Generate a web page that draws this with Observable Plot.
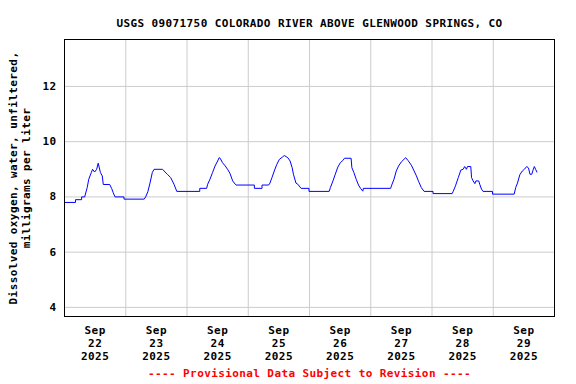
<!DOCTYPE html>
<html>
<head>
<meta charset="utf-8">
<script src="https://cdn.jsdelivr.net/npm/d3@7"></script>
<script src="https://cdn.jsdelivr.net/npm/@observablehq/plot@0.6"></script>
<style>
  html, body { margin: 0; padding: 0; background: #fff; }
</style>
</head>
<body>
<div id="chart"></div>
<script>
// Hours since 2025-09-22 00:00 and dissolved oxygen (mg/L)
const hours = [
  0, 4.3, 4.3, 6.7, 6.7, 7.9, 8.9, 9.5, 10.5, 11.0, 11.8, 12.6, 13.2, 14.1, 14.8, 15.2, 17.7, 18.5, 19.1, 19.8, 23.3, 23.3,
  31.2, 31.8, 32.7, 33.5, 34.4, 35.1, 38.4, 39.0, 40.3, 41.6, 42.9, 44.0, 53.0, 53.0, 55.7,
  56.1, 57.0, 58.0, 59.0, 60.0, 60.6, 61.0, 61.9, 63.0, 63.9, 64.8, 65.9, 66.9, 67.2, 74.4, 74.4, 77.4, 77.4, 80.0,
  80.5, 81.3, 82.2, 83.2, 84.2, 85.5, 86.1, 87.5, 88.4, 89.2, 89.7, 90.7, 91.4, 92.7, 95.8, 95.8, 103.7,
  104.2, 105.2, 106.1, 107.1, 108.1, 109.1, 109.7, 112.3, 112.6, 113.4, 114.3, 115.2, 116.0, 116.9, 117.1, 127.8,
  128.1, 129.1, 130.0, 130.9, 132.0, 133.0, 133.7, 134.6, 135.9, 137.0, 137.9, 138.8, 139.8, 140.9, 144.4, 144.4, 151.9,
  152.3, 153.2, 154.3, 155.3, 156.2, 156.8, 157.5, 157.9, 159.2, 159.5, 160.1, 160.8, 161.2, 162.3, 162.7, 163.4, 164.0, 167.7, 167.7, 176.2,
  176.8, 177.5, 178.4, 179.4, 180.2, 181.1, 181.8, 182.4, 183.1, 183.7, 184.1, 184.6, 185.1
];
const oxygen = [
  7.8, 7.8, 7.9, 7.9, 8.0, 8.0, 8.34, 8.64, 8.88, 9.0, 8.9, 9.0, 9.22, 8.88, 8.76, 8.45, 8.45, 8.3, 8.15, 8.0, 8.0, 7.92,
  7.92, 8.0, 8.2, 8.5, 8.88, 9.0, 9.0, 8.94, 8.82, 8.7, 8.46, 8.2, 8.2, 8.31, 8.31,
  8.46, 8.64, 8.88, 9.12, 9.3, 9.42, 9.4, 9.24, 9.12, 9.0, 8.86, 8.58, 8.46, 8.43, 8.43, 8.31, 8.31, 8.43, 8.43,
  8.5, 8.7, 8.94, 9.18, 9.36, 9.45, 9.5, 9.42, 9.3, 9.06, 8.82, 8.5, 8.46, 8.31, 8.31, 8.2, 8.2,
  8.34, 8.58, 8.82, 9.08, 9.24, 9.32, 9.4, 9.4, 9.06, 8.88, 8.64, 8.43, 8.31, 8.21, 8.31, 8.31,
  8.4, 8.64, 8.94, 9.12, 9.27, 9.36, 9.42, 9.32, 9.15, 8.94, 8.76, 8.55, 8.34, 8.2, 8.2, 8.12, 8.12,
  8.2, 8.4, 8.7, 8.97, 9.0, 9.1, 9.0, 9.1, 9.1, 8.7, 8.58, 8.48, 8.58, 8.58, 8.46, 8.28, 8.2, 8.2, 8.1, 8.1,
  8.34, 8.5, 8.8, 8.94, 9.0, 9.1, 9.05, 8.82, 8.82, 9.0, 9.1, 9.0, 8.9
];
const days = [22, 23, 24, 25, 26, 27, 28, 29];
const yTicks = [4, 6, 8, 10, 12];
const title = "USGS 09071750 COLORADO RIVER ABOVE GLENWOOD SPRINGS, CO";
const yLabel = "Dissolved oxygen, water, unfiltered,\nmilligrams per liter";
const caption = "---- Provisional Data Subject to Revision ----";

const t0 = Date.UTC(2025, 8, 22);
const data = hours.map((h, i) => ({date: new Date(t0 + h * 3600e3), value: oxygen[i]}));
const noon = days.map(d => new Date(Date.UTC(2025, 8, d, 12)));
const midnights = days.slice(1).map(d => new Date(Date.UTC(2025, 8, d)));

const chart = Plot.plot({
  width: 576,
  height: 384,
  marginTop: 39,
  marginBottom: 68,
  marginLeft: 64,
  marginRight: 22,
  style: {fontFamily: "DejaVu Sans Mono", fontWeight: "bold", fontSize: "11px", letterSpacing: "0.4px", background: "#fff", color: "#000"},
  x: {type: "utc", domain: [new Date(Date.UTC(2025, 8, 22)), new Date(Date.UTC(2025, 8, 30))]},
  y: {domain: [3.67, 13.7]},
  marks: [
    Plot.gridX(midnights, {stroke: "#cccccc", strokeOpacity: 1}),
    Plot.gridY(yTicks, {stroke: "#cccccc", strokeOpacity: 1}),
    Plot.axisY(yTicks, {tickSize: 0, tickPadding: 8, label: null, tickFormat: d => String(d), fill: "#000"}),
    Plot.axisX(noon, {tickSize: 0, tickPadding: 9, label: null, lineHeight: 1.15, fill: "#000",
      tickFormat: d => `Sep\n${d.getUTCDate()}\n2025`}),
    Plot.line(data, {x: "date", y: "value", stroke: "#0000ff", strokeWidth: 1}),
    Plot.frame({stroke: "#000", strokeWidth: 1}),
    Plot.text([title], {frameAnchor: "top", dy: -20, fill: "#000"}),
    Plot.text([caption], {frameAnchor: "bottom", dy: 60, fill: "#ff0000"}),
    Plot.text([yLabel], {frameAnchor: "left", textAnchor: "middle", dx: -45, rotate: -90, lineHeight: 1.2, fill: "#000"})
  ]
});
document.getElementById("chart").appendChild(chart);
</script>
</body>
</html>
